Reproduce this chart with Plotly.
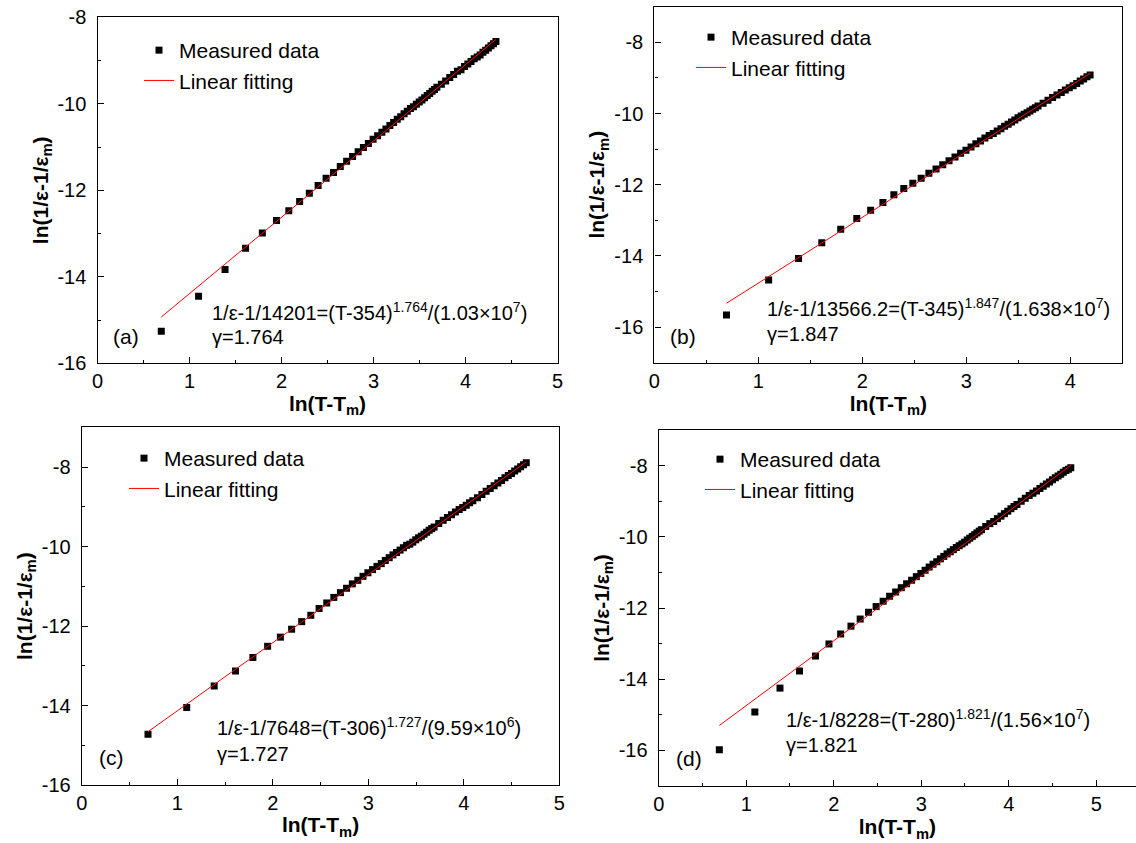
import numpy as np
import plotly.graph_objects as go

W, H = 1136, 843
FONT = "Liberation Sans"

# ---------------- data ----------------
# panel (a)
dT_a = [2, 3, 4, 5, 6, 7, 8, 9, 10, 11, 12, 13, 14, 15, 16, 17, 18, 19, 20, 21, 22, 23, 24, 25, 26, 27, 28, 29, 30,
        31, 32, 33, 34, 35, 36, 37, 38, 39, 40, 42, 44, 46, 48, 50, 52, 54, 56, 58, 60, 62, 64, 66, 68, 70, 72, 74, 76]
y_a = [-15.26, -14.45, -13.83, -13.34, -12.99, -12.70, -12.47, -12.26, -12.07, -11.89, -11.72, -11.59, -11.45, -11.33,
       -11.22, -11.11, -11.01, -10.92, -10.82, -10.74, -10.66, -10.58, -10.50, -10.43, -10.36, -10.30, -10.23, -10.17,
       -10.11, -10.07, -10.01, -9.96, -9.91, -9.86, -9.81, -9.76, -9.71, -9.67, -9.62, -9.55, -9.47, -9.39, -9.32,
       -9.25, -9.21, -9.14, -9.08, -9.02, -8.96, -8.92, -8.87, -8.81, -8.76, -8.71, -8.66, -8.61, -8.56]
fit_a_x = [0.693, 4.331]
fit_a_y = [-14.93, -8.51]

# panel (b)
dT_b = [2, 3, 4, 5, 6, 7, 8, 9, 10, 11, 12, 13, 14, 15, 16, 17, 18, 19, 20, 21, 22, 23, 24, 25, 26, 27, 28, 29, 30,
        31, 32, 33, 34, 35, 36, 37, 38, 39, 40, 42, 44, 46, 48, 50, 52, 54, 56, 58, 60, 62, 64, 66]
y_b = [-15.66, -14.68, -14.07, -13.63, -13.25, -12.95, -12.72, -12.50, -12.28, -12.11, -11.96, -11.82, -11.68, -11.56,
       -11.44, -11.33, -11.22, -11.12, -11.03, -10.94, -10.85, -10.77, -10.69, -10.62, -10.56, -10.49, -10.43, -10.36,
       -10.30, -10.24, -10.18, -10.12, -10.07, -10.02, -9.98, -9.93, -9.88, -9.84, -9.79, -9.71, -9.63, -9.55, -9.48,
       -9.41, -9.34, -9.28, -9.22, -9.16, -9.09, -9.03, -8.97, -8.92]
fit_b_x = [0.693, 4.190]
fit_b_y = [-15.33, -8.87]

# panel (c)
dT_c = [2, 3, 4, 5, 6, 7, 8, 9, 10, 11, 12, 13, 14, 15, 16, 17, 18, 19, 20, 21, 22, 23, 24, 25, 26, 27, 28, 29, 30,
        31, 32, 33, 34, 35, 36, 37, 38, 39, 40, 42, 44, 46, 48, 50, 52, 54, 56, 58, 60, 63, 66, 69, 72, 75, 78, 81,
        84, 87, 90, 93, 96, 99, 102, 105]
y_c = [-14.72, -14.05, -13.51, -13.13, -12.79, -12.51, -12.28, -12.08, -11.89, -11.73, -11.56, -11.42, -11.28, -11.16,
       -11.05, -10.94, -10.85, -10.75, -10.66, -10.58, -10.50, -10.43, -10.35, -10.28, -10.21, -10.15, -10.09, -10.03,
       -9.97, -9.94, -9.89, -9.83, -9.78, -9.74, -9.69, -9.64, -9.59, -9.55, -9.51, -9.42, -9.34, -9.27, -9.20,
       -9.13, -9.07, -9.02, -8.96, -8.90, -8.85, -8.77, -8.69, -8.61, -8.54, -8.47, -8.40, -8.34, -8.27, -8.21,
       -8.16, -8.10, -8.05, -7.99, -7.94, -7.89]
fit_c_x = [0.693, 4.654]
fit_c_y = [-14.66, -7.87]

# panel (d)
dT_d = [2, 3, 4, 5, 6, 7, 8, 9, 10, 11, 12, 13, 14, 15, 16, 17, 18, 19, 20, 21, 22, 23, 24, 25, 26, 27, 28, 29, 30,
        31, 32, 33, 34, 35, 36, 37, 38, 39, 40, 42, 44, 46, 48, 50, 52, 54, 56, 58, 60, 63, 66, 69, 72, 75, 78, 81,
        84, 87, 90, 93, 96, 99, 102, 105, 108, 111]
y_d = [-15.98, -14.92, -14.25, -13.77, -13.35, -13.01, -12.73, -12.51, -12.31, -12.12, -11.96, -11.81, -11.67, -11.55,
       -11.43, -11.32, -11.22, -11.12, -11.03, -10.94, -10.85, -10.77, -10.70, -10.62, -10.55, -10.48, -10.42, -10.36,
       -10.30, -10.25, -10.20, -10.15, -10.09, -10.04, -9.99, -9.94, -9.89, -9.84, -9.80, -9.71, -9.63, -9.57, -9.49,
       -9.42, -9.35, -9.28, -9.21, -9.15, -9.09, -9.00, -8.92, -8.84, -8.78, -8.71, -8.64, -8.58, -8.52, -8.46,
       -8.40, -8.34, -8.29, -8.24, -8.19, -8.14, -8.10, -8.06]
fit_d_x = [0.693, 4.710]
fit_d_y = [-15.30, -7.99]

eq_texts = ["1/ε-1/14201=(T-354)<sup>1.764</sup>/(1.03×10<sup>7</sup>)",
            "1/ε-1/13566.2=(T-345)<sup>1.847</sup>/(1.638×10<sup>7</sup>)",
            "1/ε-1/7648=(T-306)<sup>1.727</sup>/(9.59×10<sup>6</sup>)",
            "1/ε-1/8228=(T-280)<sup>1.821</sup>/(1.56×10<sup>7</sup>)"]
gamma_texts = ["γ=1.764", "γ=1.847", "γ=1.727", "γ=1.821"]
panel_labels = ["(a)", "(b)", "(c)", "(d)"]

x_ticks_a = [0, 1, 2, 3, 4, 5]
x_ticks_b = [0, 1, 2, 3, 4]
y_ticks = [-16, -14, -12, -10, -8]

# ---------------- layout geometry (pixels) ----------------
def px(x):
    return x / W

def py(y):
    return 1 - y / H

panels = [
    dict(dT=dT_a, y=y_a, fx=fit_a_x, fy=fit_a_y, xd=(97.5, 557.5), yd=(17.3, 363.3), xr=[0, 5], yr=[-16, -8],
         xt=x_ticks_a, leg=(139, 30), eq=(210, 311), gam=(210, 337), lab=(126, 336)),
    dict(dT=dT_b, y=y_b, fx=fit_b_x, fy=fit_b_y, xd=(654.4, 1122.4), yd=(6.7, 362.7), xr=[0, 4.5], yr=[-17, -7],
         xt=x_ticks_b, leg=(691, 17), eq=(765, 308), gam=(765, 334), lab=(683, 336)),
    dict(dT=dT_c, y=y_c, fx=fit_c_x, fy=fit_c_y, xd=(81.8, 559.3), yd=(427.3, 785.0), xr=[0, 5], yr=[-16, -7],
         xt=x_ticks_a, leg=(124, 438), eq=(215, 726), gam=(215, 754), lab=(111, 757)),
    dict(dT=dT_d, y=y_d, fx=fit_d_x, fy=fit_d_y, xd=(658.7, 1136.0), yd=(430.0, 786.0), xr=[0, 5.455], yr=[-17, -7],
         xt=x_ticks_a, leg=(700, 439), eq=(784, 718), gam=(784, 745), lab=(689, 758)),
]

fig = go.Figure()
annotations = []
layout = dict(width=W, height=H, margin=dict(l=0, r=0, t=0, b=0, autoexpand=False), paper_bgcolor="white",
              plot_bgcolor="white", showlegend=True, font=dict(family=FONT, color="black"))

for i, p in enumerate(panels, start=1):
    sfx = "" if i == 1 else str(i)
    leg_name = "legend" if i == 1 else f"legend{i}"
    fig.add_trace(go.Scatter(
        x=np.log(np.array(p["dT"], dtype=float)), y=p["y"], mode="markers",
        marker=dict(symbol="square", size=7, color="black", line=dict(width=0)),
        name="Measured data", xaxis="x" + sfx, yaxis="y" + sfx, legend=leg_name))
    fig.add_trace(go.Scatter(
        x=p["fx"], y=p["fy"], mode="lines", line=dict(color="#ff0000", width=1),
        name="Linear fitting", xaxis="x" + sfx, yaxis="y" + sfx, legend=leg_name))

    axis_common = dict(showline=True, linecolor="black", linewidth=1.3, ticks="inside", ticklen=6,
                       tickwidth=1.2, tickcolor="black", showgrid=False, zeroline=False, automargin=False,
                       tickfont=dict(family=FONT, size=20, color="black"))
    layout["xaxis" + sfx] = dict(
        axis_common, domain=[px(p["xd"][0]), px(p["xd"][1])], range=p["xr"], anchor="y" + sfx,
        mirror=True, tickmode="array", tickvals=p["xt"], ticktext=[str(v) for v in p["xt"]],
        minor=dict(ticks="inside", ticklen=3, tickwidth=1, tickcolor="black", tickmode="linear", tick0=0, dtick=0.5),
        title=dict(text="<b>ln(T-T<sub>m</sub>)</b>", font=dict(family=FONT, size=21, color="black"), standoff=4))
    layout["yaxis" + sfx] = dict(
        axis_common, domain=[py(p["yd"][1]), py(p["yd"][0])], range=p["yr"], anchor="x" + sfx,
        mirror=(i != 4), tickmode="array", tickvals=y_ticks, ticktext=[str(v) for v in y_ticks],
        minor=dict(ticks="inside", ticklen=3, tickwidth=1, tickcolor="black", tickmode="linear", tick0=0, dtick=1),
        ticklabelstandoff=6,
        title=dict(text="<b>ln(1/ε-1/ε<sub>m</sub>)</b>", font=dict(family=FONT, size=21, color="black"), standoff=3))
    layout[leg_name] = dict(x=px(p["leg"][0]), y=py(p["leg"][1]), xanchor="left", yanchor="top",
                            bgcolor="rgba(0,0,0,0)", font=dict(family=FONT, size=21, color="black"),
                            tracegroupgap=0, itemwidth=30)

    annotations.append(dict(text=eq_texts[i - 1], x=px(p["eq"][0]), y=py(p["eq"][1]), xref="paper", yref="paper",
                            xanchor="left", yanchor="middle", showarrow=False,
                            font=dict(family=FONT, size=20, color="black")))
    annotations.append(dict(text=gamma_texts[i - 1], x=px(p["gam"][0]), y=py(p["gam"][1]), xref="paper",
                            yref="paper", xanchor="left", yanchor="middle", showarrow=False,
                            font=dict(family=FONT, size=20, color="black")))
    annotations.append(dict(text=panel_labels[i - 1], x=px(p["lab"][0]), y=py(p["lab"][1]), xref="paper",
                            yref="paper", xanchor="center", yanchor="middle", showarrow=False,
                            font=dict(family=FONT, size=21, color="black")))

layout["annotations"] = annotations
fig.update_layout(**layout)
fig.write_html("out.html")
